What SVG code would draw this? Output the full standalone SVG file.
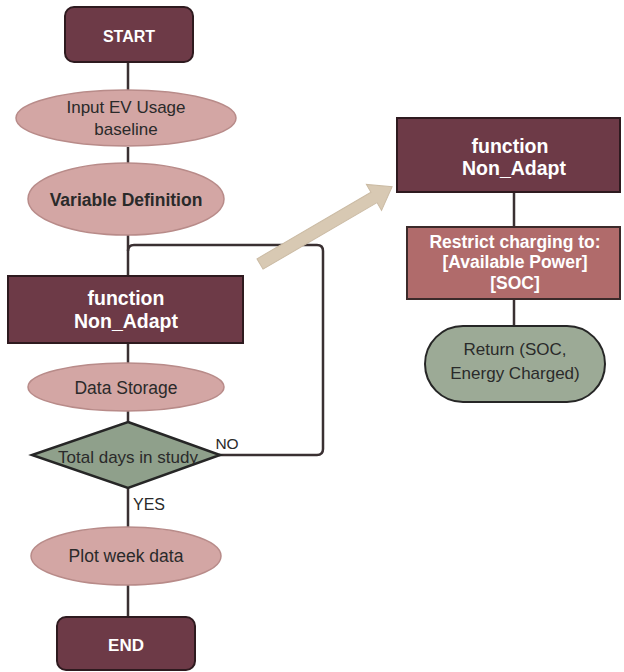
<svg xmlns="http://www.w3.org/2000/svg" width="624" height="672" viewBox="0 0 624 672">
<style>
.t{font-family:"Liberation Sans",Arial,sans-serif;text-anchor:middle}
.w{fill:#ffffff;font-weight:bold}
.d{fill:#2a2a2a}
.dk{fill:#6d3a47;stroke:#2e1a1f;stroke-width:2}
.pk{fill:#d3a6a4;stroke:#b88b89;stroke-width:1.5}
.ln{fill:none;stroke:#3a3032;stroke-width:2.5}
</style>
<rect width="624" height="672" fill="#ffffff"/>
<g id="connectors">
<path class="ln" d="M128 62 V90 M128 147 V163 M128 235 V276 M128 343 V363 M128 410 V422 M128 488 V527 M128 585 V617"/>
<path class="ln" d="M219 455 H317 Q323 455 323 449 V251 Q323 245 317 245 H134 Q128 245 128 251"/>
<path class="ln" d="M514 192 V227 M514 299 V326"/>
<g transform="translate(260,264) rotate(-30.3)">
<polygon points="0,-6 132,-6 132,-15 153,0 132,15 132,6 0,6" fill="#d8c9b3" stroke="#cbbba4" stroke-width="1"/>
</g>
<text class="t d" x="227" y="449" font-size="15.5">NO</text>
<text class="t d" x="149" y="510" font-size="16">YES</text>
</g>
<g id="start">
<rect class="dk" x="65" y="7" width="128" height="55" rx="9"/>
<text class="t w" x="129" y="42" font-size="16">START</text>
</g>
<g id="input">
<ellipse class="pk" cx="126" cy="118" rx="110" ry="28"/>
<text class="t d" x="126" y="113" font-size="17">Input EV Usage</text>
<text class="t d" x="126" y="135" font-size="17">baseline</text>
</g>
<g id="vardef">
<ellipse class="pk" cx="126" cy="199" rx="98" ry="36"/>
<text class="t d" x="126" y="206" font-size="17.5" font-weight="bold">Variable Definition</text>
</g>
<g id="func-left">
<rect class="dk" x="8" y="276" width="235" height="67"/>
<text class="t w" x="126" y="305" font-size="19.5">function</text>
<text class="t w" x="126" y="328" font-size="19.5">Non_Adapt</text>
</g>
<g id="datastorage">
<ellipse class="pk" cx="126" cy="387" rx="98" ry="24"/>
<text class="t d" x="126" y="394" font-size="17.5">Data Storage</text>
</g>
<g id="decision">
<polygon points="128,422 220,455 128,488 32,455" fill="#8fa08b" stroke="#262626" stroke-width="2.5"/>
<text class="t d" x="128" y="463" font-size="17">Total days in study</text>
</g>
<g id="plot">
<ellipse class="pk" cx="126" cy="556" rx="95" ry="29"/>
<text class="t d" x="126" y="562" font-size="17.5">Plot week data</text>
</g>
<g id="end">
<rect class="dk" x="57" y="617" width="138" height="53" rx="9"/>
<text class="t w" x="126" y="651" font-size="17">END</text>
</g>
<g id="func-right">
<rect class="dk" x="397" y="118" width="223" height="74"/>
<text class="t w" x="510" y="153" font-size="19.5">function</text>
<text class="t w" x="514" y="175" font-size="19.5">Non_Adapt</text>
</g>
<g id="restrict">
<rect x="407" y="227" width="213" height="72" fill="#b06b6b" stroke="#3b2a2a" stroke-width="2"/>
<text class="t w" x="515" y="248" font-size="17.5">Restrict charging to:</text>
<text class="t w" x="515" y="268" font-size="17.5">[Available Power]</text>
<text class="t w" x="515" y="289" font-size="17.5">[SOC]</text>
</g>
<g id="return">
<rect x="425" y="326" width="180" height="76" rx="38" fill="#9caa96" stroke="#262626" stroke-width="2"/>
<text class="t d" x="515" y="355" font-size="17">Return (SOC,</text>
<text class="t d" x="515" y="379" font-size="17">Energy Charged)</text>
</g>
</svg>
